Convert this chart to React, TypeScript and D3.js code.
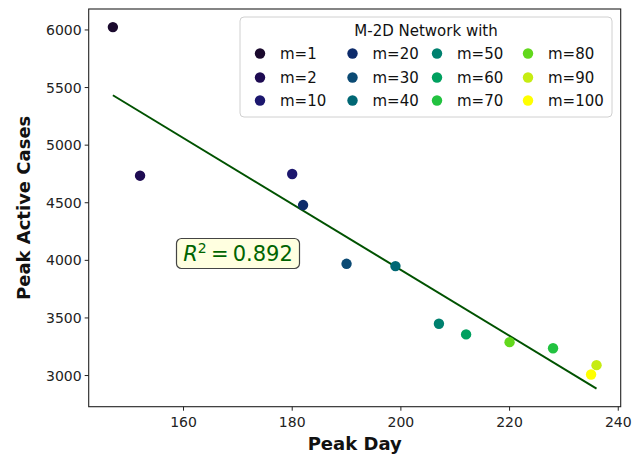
import * as React from "react";
import * as d3 from "d3";

// peak day / peak active cases for each m of the M-2D network
const mValues = [1, 2, 10, 20, 30, 40, 50, 60, 70, 80, 90, 100];
const peakDay = [147, 152, 180, 182, 190, 199, 207, 212, 228, 220, 236, 235];
const peakCases = [6025, 4735, 4750, 4480, 3970, 3950, 3450, 3357, 3237, 3290, 3090, 3009];
const pointColors = [
  "#1b0a2e", "#1e0b52", "#1c176e", "#0d2b6b", "#0b4a74", "#006774",
  "#00816f", "#00a05f", "#22c240", "#62d81c", "#c6ec12", "#ffff00",
];
const xTicks = [160, 180, 200, 220, 240];
const yTicks = [3000, 3500, 4000, 4500, 5000, 5500, 6000];
const r2Label = "0.892";
const legendTitle = "M-2D Network with";

const W = 642;
const H = 465;
const plot = { left: 88.7, top: 9, right: 620.7, bottom: 406.7 };

function fit(xs: number[], ys: number[]) {
  const mx = d3.mean(xs) as number;
  const my = d3.mean(ys) as number;
  const sxy = d3.sum(xs, (x, i) => (x - mx) * (ys[i] - my));
  const sxx = d3.sum(xs, (x) => (x - mx) * (x - mx));
  const slope = sxy / sxx;
  return { slope, intercept: my - slope * mx };
}

const App = () => {
  const { slope, intercept } = fit(peakDay, peakCases);
  const [x0, x1] = d3.extent(peakDay) as [number, number];
  const lineX = [x0, x1];
  const lineY = lineX.map((d) => intercept + slope * d);

  const xPad = (x1 - x0) * 0.05;
  const allY = peakCases.concat(lineY);
  const [y0, y1] = d3.extent(allY) as [number, number];
  const yPad = (y1 - y0) * 0.05;

  const xScale = d3.scaleLinear().domain([x0 - xPad, x1 + xPad]).range([plot.left, plot.right]);
  const yScale = d3.scaleLinear().domain([y0 - yPad, y1 + yPad]).range([plot.bottom, plot.top]);

  const lineGen = d3
    .line<number>()
    .x((d) => xScale(d))
    .y((d) => yScale(intercept + slope * d));

  const tickFont = "DejaVu Sans, sans-serif";

  // legend layout, 4 columns x 3 rows
  const legCols = [260, 352.5, 437, 528];
  const legRows = [53.5, 77.5, 100.5];

  return (
    <div style={{ position: "absolute", left: 0, top: 0 }}>
      <svg width={W} height={H} style={{ display: "block", background: "#fff" }} fontFamily={tickFont}>
        {/* fit line */}
        <path d={lineGen(lineX) || ""} stroke="#005200" strokeWidth={2} fill="none" />

        {/* points */}
        {peakDay.map((d, i) => (
          <circle key={i} cx={xScale(d)} cy={yScale(peakCases[i])} r={5.2} fill={pointColors[i]} />
        ))}

        {/* frame */}
        <rect
          x={plot.left}
          y={plot.top}
          width={plot.right - plot.left}
          height={plot.bottom - plot.top}
          fill="none"
          stroke="#222"
          strokeWidth={1.1}
        />

        {/* x ticks */}
        {xTicks.map((t) => (
          <g key={t} transform={`translate(${xScale(t)},${plot.bottom})`}>
            <line y2={4} stroke="#222" strokeWidth={1} />
            <text y={20.5} textAnchor="middle" fontSize={14} fill="#222">
              {t}
            </text>
          </g>
        ))}
        {/* y ticks */}
        {yTicks.map((t) => (
          <g key={t} transform={`translate(${plot.left},${yScale(t)})`}>
            <line x2={-4} stroke="#222" strokeWidth={1} />
            <text x={-7} dy="0.36em" textAnchor="end" fontSize={14} fill="#222">
              {t}
            </text>
          </g>
        ))}

        <text x={(plot.left + plot.right) / 2} y={450} textAnchor="middle" fontSize={18} fontWeight="bold" fill="#111">
          Peak Day
        </text>
        <text
          transform={`translate(30,${(plot.top + plot.bottom) / 2}) rotate(-90)`}
          textAnchor="middle"
          fontSize={18}
          fontWeight="bold"
          fill="#111"
        >
          Peak Active Cases
        </text>

        {/* legend */}
        <rect x={240} y={17} width={372} height={100} rx={4} fill="#fff" fillOpacity={0.85} stroke="#d0d0d0" />
        <text x={426} y={36} textAnchor="middle" fontSize={15} fill="#111">
          {legendTitle}
        </text>
        {mValues.map((m, i) => {
          const col = Math.floor(i / 3);
          const row = i % 3;
          return (
            <g key={m} transform={`translate(${legCols[col]},${legRows[row]})`}>
              <circle r={5.2} fill={pointColors[i]} />
              <text x={20} dy="0.36em" fontSize={15} fill="#111">
                {`m=${m}`}
              </text>
            </g>
          );
        })}

        {/* R^2 box */}
        <rect x={176.5} y={238.5} width={123} height={30} rx={5} fill="#ffffe0" stroke="#444" strokeWidth={1.2} />
        <text x={238} y={261} textAnchor="middle" fontSize={21} fill="#006400">
          <tspan fontStyle="italic">R</tspan>
          <tspan dy={-8} fontSize={14}>2</tspan>
          <tspan dy={8}>{"\u2009=\u2009" + r2Label}</tspan>
        </text>
      </svg>
    </div>
  );
};

export default App;
